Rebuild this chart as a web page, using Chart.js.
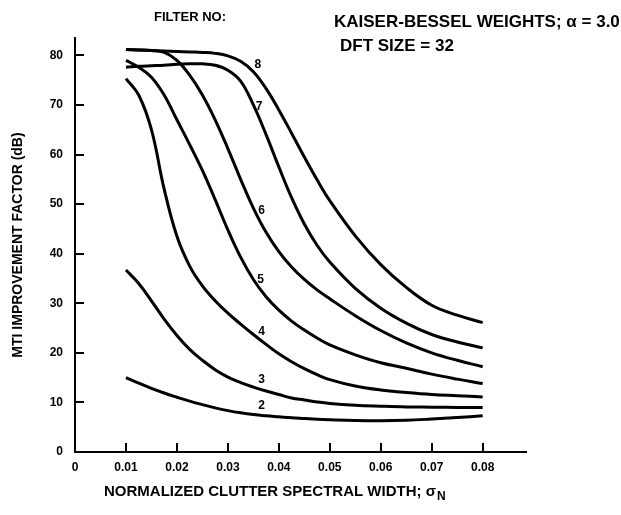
<!DOCTYPE html>
<html>
<head>
<meta charset="utf-8">
<script src="https://cdn.jsdelivr.net/npm/chart.js@4/dist/chart.umd.min.js"></script>
<style>
  html, body { margin: 0; padding: 0; background: #fff; }
  #wrap { width: 621px; height: 515px; }
</style>
</head>
<body>
<div id="wrap"><canvas id="myChart" width="621" height="515"></canvas></div>
<script>
// normalized clutter spectral width (x)
const widths = [0.01, 0.0125, 0.015, 0.0175, 0.02, 0.0225, 0.025, 0.0275, 0.03, 0.0325,
  0.035, 0.0375, 0.04, 0.0425, 0.045, 0.0475, 0.05, 0.055, 0.06, 0.065, 0.07, 0.075, 0.08];

// MTI improvement factor (dB) per filter
const filter8 = [81.2, 81.1, 81.0, 80.9, 80.8, 80.7, 80.6, 80.4, 79.9, 78.8,
  76.7, 73.3, 69.0, 64.3, 59.5, 54.9, 50.7, 43.6, 37.8, 33.2, 29.6, 27.6, 26.1];
const filter7 = [77.6, 77.8, 77.9, 78.0, 78.2, 78.3, 78.3, 78.0, 77.0, 74.8,
  70.0, 64.0, 57.5, 51.3, 46.0, 41.7, 38.3, 33.0, 29.0, 26.0, 23.7, 22.2, 21.0];
const filter6 = [81.2, 81.1, 81.0, 80.6, 79.0, 76.0, 72.0, 67.0, 61.2, 55.0,
  49.2, 44.3, 40.4, 37.3, 34.8, 32.7, 30.9, 27.5, 24.5, 22.0, 20.0, 18.5, 17.2];
const filter5 = [79.0, 77.6, 75.6, 72.0, 67.0, 62.0, 56.8, 50.9, 44.8, 39.3,
  34.8, 31.3, 28.6, 26.4, 24.6, 23.0, 21.6, 19.6, 18.0, 16.9, 15.7, 14.7, 13.8];
const filter4 = [75.3, 72.0, 65.0, 53.0, 43.5, 37.5, 33.5, 30.5, 28.0, 25.8,
  23.7, 21.7, 19.8, 18.2, 16.8, 15.6, 14.6, 13.3, 12.5, 12.0, 11.6, 11.35, 11.1];
const filter3 = [36.7, 34.0, 30.5, 26.8, 23.5, 20.7, 18.5, 16.6, 15.1, 14.0,
  13.1, 12.3, 11.6, 10.9, 10.5, 10.1, 9.8, 9.45, 9.25, 9.1, 9.05, 9.0, 9.0];
const filter2 = [15.0, 13.9, 12.85, 11.9, 11.05, 10.25, 9.55, 8.9, 8.35, 7.9,
  7.55, 7.3, 7.1, 6.9, 6.75, 6.6, 6.5, 6.35, 6.3, 6.4, 6.65, 6.95, 7.3];

// curve labels: name, x, y (data units)
const labelNames = ["8", "7", "6", "5", "4", "3", "2"];
const labelX = [0.0359, 0.0361, 0.0366, 0.0364, 0.0366, 0.0366, 0.0366];
const labelY = [78.2, 69.6, 48.6, 34.7, 24.2, 14.5, 9.3];

const series = [filter8, filter7, filter6, filter5, filter4, filter3, filter2];

Chart.defaults.font.family = "'Liberation Sans', Arial, sans-serif";
Chart.defaults.color = "#000";

const boldFont = (size) => "bold " + size + "px 'Liberation Sans', Arial, sans-serif";

const innerTicks = {
  id: "innerTicks",
  afterDraw(chart) {
    const ctx = chart.ctx;
    const x = chart.scales.x;
    const y = chart.scales.y;
    ctx.save();
    ctx.strokeStyle = "#000";
    ctx.lineWidth = 2;
    x.ticks.forEach((t) => {
      if (t.value === 0) return;
      const px = Math.round(x.getPixelForValue(t.value));
      ctx.beginPath();
      ctx.moveTo(px, y.bottom);
      ctx.lineTo(px, y.bottom - 9);
      ctx.stroke();
    });
    y.ticks.forEach((t) => {
      if (t.value === 0) return;
      const py = Math.round(y.getPixelForValue(t.value));
      ctx.beginPath();
      ctx.moveTo(x.left, py);
      ctx.lineTo(x.left + 9, py);
      ctx.stroke();
    });
    ctx.restore();
  },
};

const texts = {
  id: "texts",
  afterDraw(chart) {
    const ctx = chart.ctx;
    const x = chart.scales.x;
    const y = chart.scales.y;
    ctx.save();
    ctx.fillStyle = "#000";
    ctx.textBaseline = "middle";

    ctx.textAlign = "center";
    ctx.font = boldFont(13);
    ctx.fillText("FILTER NO:", 190, 17);

    ctx.textAlign = "left";
    ctx.font = boldFont(17);
    ctx.fillText("KAISER-BESSEL WEIGHTS; \u03b1 = 3.0", 334, 22);
    ctx.fillText("DFT SIZE = 32", 340, 46);

    ctx.font = boldFont(15);
    const xt = "NORMALIZED CLUTTER SPECTRAL WIDTH; \u03c3";
    ctx.fillText(xt, 104, 492);
    const w = ctx.measureText(xt).width;
    ctx.font = boldFont(12);
    ctx.fillText("N", 104 + w + 1, 497);

    ctx.textAlign = "center";
    ctx.font = boldFont(12);
    labelNames.forEach((n, i) => {
      ctx.fillText(n, x.getPixelForValue(labelX[i]), y.getPixelForValue(labelY[i]));
    });
    ctx.restore();
  },
};

const data = {
  labels: widths,
  datasets: series.map((s, i) => ({
    label: "Filter " + labelNames[i],
    data: s.map((v, j) => ({ x: widths[j], y: v })),
    borderColor: "#000",
    borderWidth: 3,
    pointRadius: 0,
    fill: false,
    tension: 0.4,
  })),
};

const config = {
  type: "line",
  data: data,
  options: {
    responsive: false,
    animation: false,
    layout: { padding: { top: 38, right: 95, left: 0, bottom: 0 } },
    plugins: {
      legend: { display: false },
      tooltip: { enabled: false },
    },
    scales: {
      x: {
        type: "linear",
        min: 0,
        max: 0.0885,
        ticks: {
          stepSize: 0.01,
          includeBounds: false,
          autoSkip: false,
          maxRotation: 0,
          padding: 8,
          font: { size: 12, weight: "bold" },
          callback: (v) => (Math.abs(v) < 1e-9 ? "0" : v.toFixed(2)),
        },
        grid: { drawOnChartArea: false, drawTicks: false },
        border: { color: "#000", width: 2 },
        afterFit: (s) => { s.height = 63; },
      },
      y: {
        min: 0,
        max: 83.5,
        ticks: {
          stepSize: 10,
          includeBounds: false,
          padding: 12,
          font: { size: 12, weight: "bold" },
        },
        grid: { drawOnChartArea: false, drawTicks: false },
        border: { color: "#000", width: 2 },
        title: {
          display: true,
          text: "MTI IMPROVEMENT FACTOR (dB)",
          font: { size: 14, weight: "bold" },
          padding: { top: 10, bottom: 0 },
        },
        afterFit: (s) => { s.width = 75; },
      },
    },
  },
  plugins: [innerTicks, texts],
};

new Chart(document.getElementById("myChart"), config);
</script>
</body>
</html>
